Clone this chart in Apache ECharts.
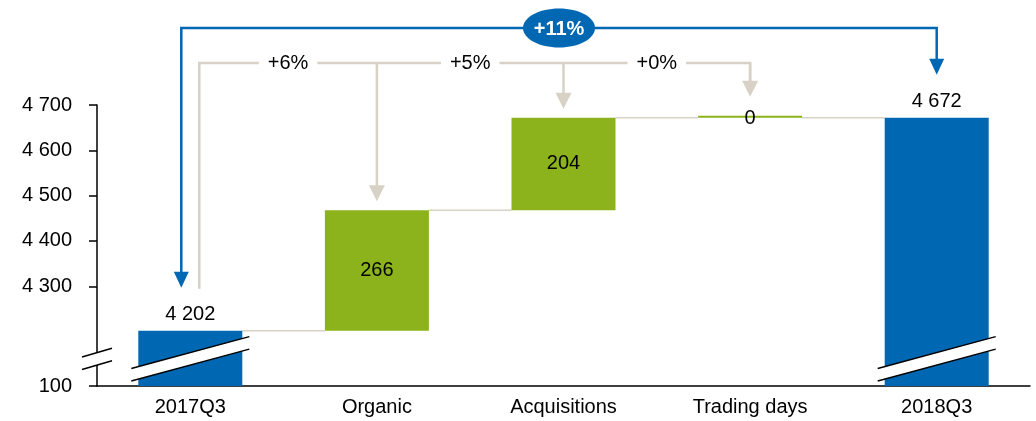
<!DOCTYPE html>
<html>
<head>
<meta charset="utf-8">
<script src="https://cdn.jsdelivr.net/npm/echarts@6/dist/echarts.min.js"></script>
<style>
  html, body { margin: 0; padding: 0; background: #fff; }
  #chart { width: 1036px; height: 421px; }
</style>
</head>
<body>
<div id="chart"></div>
<script>
// Quarterly bridge: 2017Q3 -> 2018Q3
const categories = ['2017Q3', 'Organic', 'Acquisitions', 'Trading days', '2018Q3'];
const startValue = 4202;
const deltas = [266, 204, 0];
const endValue = 4672;
const yTickValues = [100, 4300, 4400, 4500, 4600, 4700];
const yBreak = { start: 160, end: 4140 };

const BLUE = '#0067b2';
const GREEN = '#8cb31c';
const GREY = '#d7d2c5';
const FONT = 'Liberation Sans, Arial, sans-serif';

const fmt = v => String(v).replace(/\B(?=(\d{3})+(?!\d))/g, ' ');
const pct = (d, base) => (d >= 0 ? '+' : '') + Math.round(d / base * 100) + '%';

// running totals -> invisible base + visible part of each bar
const baseData = [0];
const runTops = [startValue];
let run = startValue;
deltas.forEach(d => { baseData.push(run); run += d; runTops.push(run); });
baseData.push(0);
runTops.push(endValue);

const barData = [startValue].concat(deltas, [endValue]).map((v, i) => {
  const total = i === 0 || i === categories.length - 1;
  return {
    value: v,
    itemStyle: { color: total ? BLUE : GREEN },
    label: total
      ? { show: true, position: 'top', distance: 6, formatter: p => fmt(p.value) }
      : { show: true, position: 'inside', offset: [0, v === 0 ? 2 : 0], formatter: p => fmt(p.value) }
  };
});

const chart = echarts.init(document.getElementById('chart'), null, { renderer: 'canvas' });

chart.setOption({
  animation: false,
  textStyle: { fontFamily: FONT },
  grid: { left: 97, right: 6, top: 105, bottom: 35, outerBoundsMode: 'none' },
  xAxis: {
    type: 'category',
    data: categories,
    axisLine: { lineStyle: { color: '#000', width: 1.5 } },
    axisTick: { show: false },
    axisLabel: { color: '#000', fontSize: 20, margin: 11, fontFamily: FONT }
  },
  yAxis: {
    type: 'value',
    min: 100,
    max: 4700,
    breaks: [{ start: yBreak.start, end: yBreak.end, gap: 0 }],
    breakArea: { show: false },
    splitLine: { show: false },
    axisLine: { show: true, lineStyle: { color: '#000', width: 1.5 } },
    axisTick: { show: true, length: 8, customValues: yTickValues, lineStyle: { color: '#000', width: 1.5 } },
    axisLabel: {
      customValues: yTickValues,
      color: '#000', fontSize: 20, margin: 25, fontFamily: FONT,
      formatter: v => fmt(v)
    }
  },
  series: [
    {
      name: 'base', type: 'bar', stack: 'bridge', silent: true,
      barWidth: 104,
      itemStyle: { color: 'transparent' },
      data: baseData
    },
    {
      name: 'value', type: 'bar', stack: 'bridge',
      barWidth: 104, barMinHeight: 2, z: 3,
      label: { color: '#000', fontSize: 20, fontFamily: FONT },
      data: barData
    }
  ]
});

// ---- annotations placed from the axis scales ----
const px = (i, v) => chart.convertToPixel({ xAxisIndex: 0, yAxisIndex: 0 }, [i, v]);
const n = categories.length;
const cx = categories.map((c, i) => px(i, 0)[0]);
const topY = runTops.map((v, i) => px(i, v)[1]);
const halfBar = 52;
const bandWidth = cx[1] - cx[0];
const axisX = cx[0] - bandWidth / 2;
const breakY = px(0, yBreak.start)[1];

const els = [];

// thin connectors between consecutive bar tops
for (let i = 0; i < n - 1; i++) {
  els.push({
    type: 'line', z: 1,
    shape: { x1: cx[i] + halfBar, y1: topY[i], x2: cx[i + 1] - halfBar, y2: topY[i] },
    style: { stroke: GREY, lineWidth: 1.5 }
  });
}

function arrowHead(x, tipY, w, h, color) {
  return {
    type: 'polygon', z: 20,
    shape: { points: [[x - w / 2, tipY - h], [x + w / 2, tipY - h], [x, tipY]] },
    style: { fill: color }
  };
}
function polyline(points, color, width) {
  return { type: 'polyline', z: 20, shape: { points }, style: { stroke: color, lineWidth: width, fill: null } };
}

// grey step brackets with percentages
const greyY = 63;
const greyStartX = cx[0] + 9;
const greyStartY = topY[0] - 42;
const dropX = [cx[1], cx[2], cx[3]];
const dropTip = deltas.map((d, k) => topY[k + 1] - (d === 0 ? 21 : 9));
els.push(polyline([[greyStartX, greyStartY], [greyStartX, greyY], [dropX[2], greyY], [dropX[2], dropTip[2] - 15]], GREY, 2.5));
for (let k = 0; k < deltas.length; k++) {
  els.push(polyline([[dropX[k], greyY], [dropX[k], dropTip[k] - 15]], GREY, 2.5));
  els.push(arrowHead(dropX[k], dropTip[k], 16, 16, GREY));
  const left = k === 0 ? greyStartX : dropX[k - 1];
  els.push({
    type: 'text', z: 25,
    x: (left + dropX[k]) / 2, y: greyY,
    style: {
      text: pct(deltas[k], startValue), fill: '#000', font: '20px ' + FONT,
      align: 'center', verticalAlign: 'middle',
      backgroundColor: '#fff', padding: [2, 9]
    }
  });
}

// blue overall bracket
const blueY = 28;
const bx0 = cx[0] - 9, bx1 = cx[n - 1];
const tip0 = topY[0] - 43, tip1 = topY[n - 1] - 43;
els.push(polyline([[bx0, tip0 - 14], [bx0, blueY], [bx1, blueY], [bx1, tip1 - 14]], BLUE, 2.5));
els.push(arrowHead(bx0, tip0, 15, 16, BLUE));
els.push(arrowHead(bx1, tip1, 15, 16, BLUE));
const midX = (bx0 + bx1) / 2;
els.push({ type: 'ellipse', z: 25, shape: { cx: midX, cy: blueY, rx: 36, ry: 19.5 }, style: { fill: BLUE } });
els.push({
  type: 'text', z: 26, x: midX, y: blueY + 1,
  style: {
    text: pct(endValue - startValue, startValue), fill: '#fff',
    font: 'bold 20px ' + FONT, align: 'center', verticalAlign: 'middle'
  }
});

// axis break symbols: white band between two slanted lines
function breakMark(x, halfW, slope, gap) {
  const yTop = breakY - gap / 2;
  const a = [x - halfW, yTop + halfW * slope], b = [x + halfW, yTop - halfW * slope];
  const c = [b[0], b[1] + gap], d = [a[0], a[1] + gap];
  els.push({ type: 'polygon', z: 30, shape: { points: [a, b, c, d] }, style: { fill: '#fff' } });
  els.push({ type: 'line', z: 31, shape: { x1: a[0], y1: a[1], x2: b[0], y2: b[1] }, style: { stroke: '#000', lineWidth: 1.5 } });
  els.push({ type: 'line', z: 31, shape: { x1: d[0], y1: d[1], x2: c[0], y2: c[1] }, style: { stroke: '#000', lineWidth: 1.5 } });
}
breakMark(axisX, 15, 0.29, 12.5);
breakMark(cx[0], 59, 0.27, 12.5);
breakMark(cx[n - 1], 59, 0.27, 12.5);

chart.setOption({ graphic: { elements: els } });
</script>
</body>
</html>
